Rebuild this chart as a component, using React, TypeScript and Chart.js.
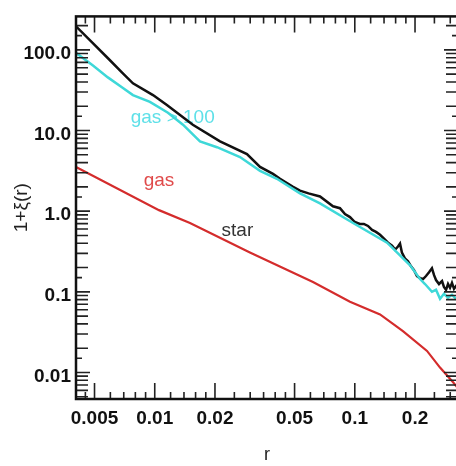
import React, { useEffect, useRef } from "react";
import { Chart, registerables } from "chart.js";
Chart.register(...registerables);

// ---- data ----
const starX = [0.00404, 0.00489, 0.00587, 0.00685, 0.00778, 0.0098, 0.0115, 0.0155, 0.0212, 0.0289, 0.0336, 0.039, 0.0423, 0.0489, 0.0532, 0.0587, 0.067, 0.0778, 0.0843, 0.0893, 0.0946, 0.1, 0.106, 0.111, 0.1164, 0.122, 0.1276, 0.1337, 0.14, 0.1466, 0.1535, 0.159, 0.1644, 0.1683, 0.172, 0.178, 0.1845, 0.191, 0.1977, 0.2046, 0.2118, 0.2193, 0.227, 0.235, 0.243, 0.249, 0.2547, 0.2636, 0.273, 0.279, 0.2858, 0.2924, 0.2992, 0.306, 0.3133, 0.3206, 0.328];
const starY = [196, 122, 77.6, 52.5, 38.5, 27.5, 20.7, 11.8, 7.34, 5.1, 3.54, 2.9, 2.52, 2.02, 1.8, 1.66, 1.52, 1.15, 1.088, 0.919, 0.845, 0.734, 0.694, 0.694, 0.656, 0.586, 0.554, 0.51, 0.456, 0.407, 0.374, 0.334, 0.364, 0.396, 0.307, 0.26, 0.239, 0.207, 0.185, 0.157, 0.148, 0.144, 0.157, 0.175, 0.196, 0.161, 0.14, 0.125, 0.136, 0.115, 0.106, 0.125, 0.112, 0.129, 0.109, 0.118, 0.112];

const gas100X = [0.00404, 0.00491, 0.00583, 0.00685, 0.00778, 0.00946, 0.01164, 0.01384, 0.01683, 0.02047, 0.02667, 0.0336, 0.0408, 0.0532, 0.067, 0.098, 0.145, 0.189, 0.2118, 0.2244, 0.243, 0.2547, 0.2667, 0.279, 0.2924, 0.306, 0.3206, 0.328];
const gas100Y = [91.9, 63.8, 45.6, 34.4, 27.5, 22.6, 16.6, 11.8, 7.34, 6.21, 4.69, 3.16, 2.52, 1.66, 1.25, 0.714, 0.407, 0.213, 0.144, 0.125, 0.1, 0.106, 0.082, 0.0946, 0.0845, 0.0919, 0.082, 0.0845];

const gasX = [0.00404, 0.0105, 0.015, 0.0299, 0.0618, 0.0946, 0.1337, 0.174, 0.2296, 0.2667, 0.31, 0.328];
const gasY = [3.54, 1.03, 0.714, 0.307, 0.132, 0.0755, 0.0525, 0.0325, 0.0185, 0.0115, 0.00755, 0.00638];

const xMin = 0.00404;
const xMax = 0.328;
const yMin = 0.00469;
const yMax = 260;

const xTickValues = [0.005, 0.01, 0.02, 0.05, 0.1, 0.2];
const xTickLabels = ["0.005", "0.01", "0.02", "0.05", "0.1", "0.2"];
const xMinorTicks = [0.0045, 0.006, 0.007, 0.008, 0.009, 0.012, 0.014, 0.016, 0.018, 0.025, 0.03, 0.035, 0.04, 0.045, 0.06, 0.07, 0.08, 0.09, 0.12, 0.14, 0.16, 0.18, 0.25, 0.3];

const yTickValues = [0.01, 0.1, 1, 10, 100];
const yTickLabels = ["0.01", "0.1", "1.0", "10.0", "100.0"];
const yMinorMults = [2, 3, 4, 5, 6, 7, 8, 9];
const yShortMults = [1.5];

const seriesLabels = ["gas > 100", "gas", "star"];
const labelX = [0.0123, 0.0105, 0.0259];
const labelY = [12.5, 2.08, 0.496];

const FONT = "'Liberation Sans', Arial, Helvetica, sans-serif";

const framePlugin = {
  id: "frameTicks",
  beforeDatasetsDraw(chart: any) {
    const ctx = chart.ctx;
    const xs = chart.scales.x;
    const ys = chart.scales.y;
    const colors = ["#5ee0e8", "#e04a4a", "#333333"];
    ctx.save();
    ctx.font = `19px ${FONT}`;
    ctx.textAlign = "center";
    ctx.textBaseline = "alphabetic";
    seriesLabels.forEach((t, i) => {
      ctx.fillStyle = colors[i];
      ctx.fillText(t, xs.getPixelForValue(labelX[i]), ys.getPixelForValue(labelY[i]));
    });
    ctx.restore();
  },
  afterDraw(chart: any) {
    const ctx = chart.ctx;
    const { left, right, top, bottom } = chart.chartArea;
    const xs = chart.scales.x;
    const ys = chart.scales.y;
    ctx.save();
    ctx.strokeStyle = "#222";
    ctx.lineWidth = 1.6;
    const vtick = (v: number, len: number) => {
      const p = xs.getPixelForValue(v);
      if (p < left || p > right) return;
      ctx.beginPath();
      ctx.moveTo(p, bottom);
      ctx.lineTo(p, bottom - len);
      ctx.moveTo(p, top);
      ctx.lineTo(p, top + len);
      ctx.stroke();
    };
    const htick = (v: number, len: number) => {
      const p = ys.getPixelForValue(v);
      if (p < top || p > bottom) return;
      ctx.beginPath();
      ctx.moveTo(left, p);
      ctx.lineTo(left + len, p);
      ctx.moveTo(right, p);
      ctx.lineTo(right - len, p);
      ctx.stroke();
    };
    xTickValues.forEach((v) => vtick(v, 16));
    xMinorTicks.forEach((v) => vtick(v, 7));
    [0.001, 0.01, 0.1, 1, 10, 100].forEach((d) => {
      htick(d, 14);
      yMinorMults.forEach((m) => htick(d * m, 12));
      yShortMults.forEach((m) => htick(d * m, 6));
    });
    ctx.lineWidth = 2.5;
    ctx.strokeStyle = "#111";
    ctx.strokeRect(left, top, right - left, bottom - top);
    ctx.restore();
  },
};

export default function App() {
  const ref = useRef<HTMLCanvasElement | null>(null);
  useEffect(() => {
    if (!ref.current) return;
    const mk = (xs: number[], ys: number[]) => xs.map((x, i) => ({ x, y: ys[i] }));
    const chart = new Chart(ref.current, {
      type: "line",
      data: {
        datasets: [
          { label: "gas", data: mk(gasX, gasY), borderColor: "#d42c2c", borderWidth: 2.2, pointRadius: 0, tension: 0, fill: false },
          { label: "gas > 100", data: mk(gas100X, gas100Y), borderColor: "#3ed8d8", borderWidth: 2.5, pointRadius: 0, tension: 0, fill: false },
          { label: "star", data: mk(starX, starY), borderColor: "#111111", borderWidth: 2.5, pointRadius: 0, tension: 0, fill: false },
        ],
      },
      options: {
        animation: false,
        responsive: false,
        devicePixelRatio: 1,
        layout: { padding: { left: 0, top: 10, right: 12, bottom: 0 } },
        plugins: { legend: { display: false }, tooltip: { enabled: false } },
        scales: {
          x: {
            type: "logarithmic",
            position: "bottom",
            min: xMin,
            max: xMax,
            grid: { display: false, drawTicks: false, tickLength: 0 },
            border: { display: false },
            afterBuildTicks: (s: any) => {
              s.ticks = xTickValues.map((v) => ({ value: v }));
            },
            afterFit: (s: any) => {
              s.height = 67;
            },
            ticks: {
              autoSkip: false,
              maxRotation: 0,
              padding: 8,
              color: "#111",
              font: { family: FONT, size: 19, weight: "bold" },
              callback: (_v: any, i: number) => xTickLabels[i],
            },
            title: {
              display: true,
              text: "r",
              color: "#222",
              padding: { top: 0, bottom: 0 },
              font: { family: FONT, size: 18 },
            },
          },
          y: {
            type: "logarithmic",
            position: "left",
            min: yMin,
            max: yMax,
            grid: { display: false, drawTicks: false, tickLength: 0 },
            border: { display: false },
            afterBuildTicks: (s: any) => {
              s.ticks = yTickValues.map((v) => ({ value: v }));
            },
            afterFit: (s: any) => {
              s.width = 76;
            },
            ticks: {
              autoSkip: false,
              padding: 5,
              labelOffset: 4,
              color: "#111",
              font: { family: FONT, size: 19, weight: "bold" },
              callback: (_v: any, i: number) => yTickLabels[i],
            },
            title: {
              display: true,
              text: "1+ξ(r)",
              color: "#222",
              padding: { top: 10, bottom: 0 },
              font: { family: FONT, size: 19 },
            },
          },
        },
      },
      plugins: [framePlugin],
    } as any);
    return () => chart.destroy();
  }, []);
  return (
    <div style={{ position: "fixed", left: 0, top: 0, width: 456, height: 466, overflow: "hidden", background: "#fff" }}>
      <canvas ref={ref} width={470} height={466} style={{ display: "block" }} />
    </div>
  );
}
